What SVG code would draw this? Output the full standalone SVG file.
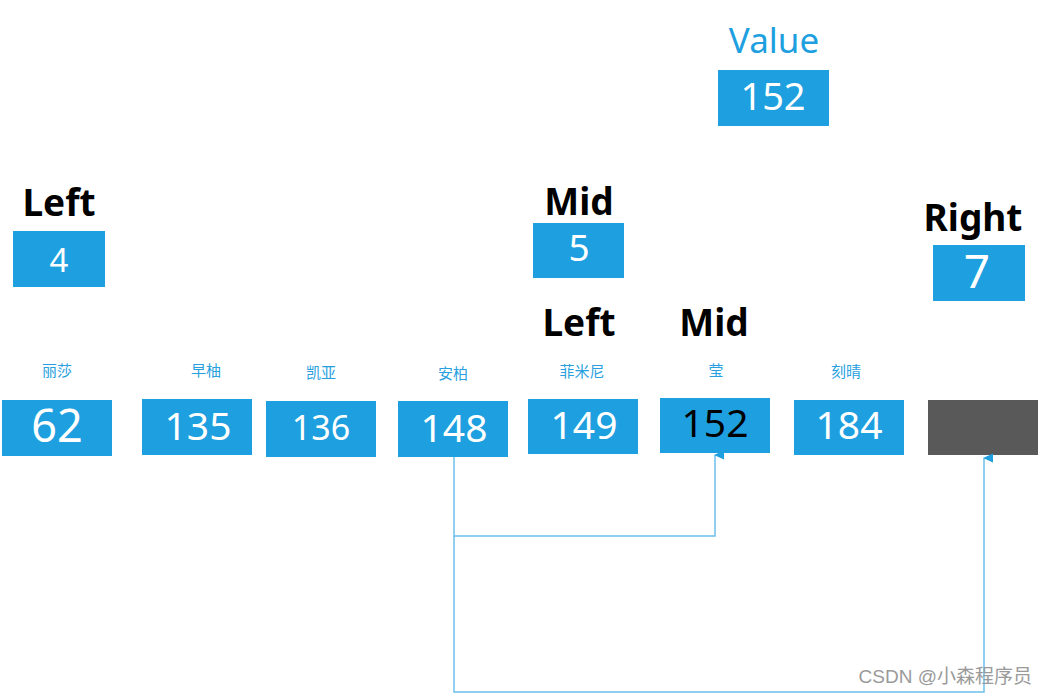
<svg xmlns="http://www.w3.org/2000/svg" width="1046" height="694" viewBox="0 0 1046 694">
<style>
.box{fill:#1ea0e0}
.num{font-family:"Noto Sans","Open Sans",sans-serif;fill:#fff;text-anchor:middle}
.lbl{font-family:"Noto Sans CJK SC",sans-serif;font-size:15px;fill:#2a9fe0;text-anchor:middle}
.hd{font-family:"Noto Sans","Liberation Sans",sans-serif;font-weight:bold;font-size:37px;fill:#000;text-anchor:middle}
.conn{fill:none;stroke:#6cc0ea;stroke-width:1.5}
</style>
<defs>
<marker id="arr" viewBox="0 0 10 10" refX="5" refY="1" markerWidth="10" markerHeight="10" orient="auto-start-reverse" markerUnits="userSpaceOnUse">
<path d="M0.5,10 L5,0 L9.5,10 Z" fill="#1e9fdf"/>
</marker>
</defs>
<rect width="1046" height="694" fill="#fff"/>

<g id="value">
<text x="774" y="53" font-family="Noto Sans, Open Sans, sans-serif" font-size="35" fill="#1e9fdf" text-anchor="middle">Value</text>
<rect class="box" x="718" y="70" width="111" height="56"/>
<text class="num" x="773" y="110" font-size="38">152</text>
</g>

<g id="left-top">
<text class="hd" x="59" y="216">Left</text>
<rect class="box" x="13" y="231" width="92" height="56"/>
<text class="num" x="59" y="272" font-size="33">4</text>
</g>

<g id="mid-top">
<text class="hd" x="579" y="215">Mid</text>
<rect class="box" x="533" y="223" width="91" height="55"/>
<text class="num" x="579" y="261" font-size="37">5</text>
</g>

<g id="right-top">
<text class="hd" x="973" y="231">Right</text>
<rect class="box" x="933" y="245" width="92" height="56"/>
<text class="num" x="977" y="288" font-size="46">7</text>
</g>

<g id="left-low"><text class="hd" x="579" y="336">Left</text></g>
<g id="mid-low"><text class="hd" x="714" y="336">Mid</text></g>

<g id="n0">
<text class="lbl" x="57" y="376">丽莎</text>
<rect class="box" x="2" y="400" width="110" height="56"/>
<text class="num" x="57" y="442" font-size="45">62</text>
</g>
<g id="n1">
<text class="lbl" x="206" y="376">早柚</text>
<rect class="box" x="142" y="399" width="110" height="56"/>
<text class="num" x="198" y="440" font-size="39">135</text>
</g>
<g id="n2">
<text class="lbl" x="321" y="378">凯亚</text>
<rect class="box" x="266" y="401" width="110" height="56"/>
<text class="num" x="321" y="440" font-size="34">136</text>
</g>
<g id="n3">
<text class="lbl" x="453" y="379">安柏</text>
<rect class="box" x="398" y="401" width="110" height="56"/>
<text class="num" x="454" y="442" font-size="39">148</text>
</g>
<g id="n4">
<text class="lbl" x="582" y="377">菲米尼</text>
<rect class="box" x="528" y="399" width="110" height="55"/>
<text class="num" x="584" y="439" font-size="39">149</text>
</g>
<g id="n5">
<text class="lbl" x="716" y="376">莹</text>
<rect class="box" x="660" y="398" width="110" height="55"/>
<text class="num" x="715" y="437" font-size="39" style="fill:#000">152</text>
</g>
<g id="n6">
<text class="lbl" x="846" y="377">刻晴</text>
<rect class="box" x="794" y="400" width="110" height="55"/>
<text class="num" x="849" y="439" font-size="39">184</text>
</g>
<g id="n7">
<rect x="928" y="400" width="110" height="55" fill="#595959"/>
</g>

<g id="connectors">
<path class="conn" d="M454,457 V536 H715 V455" marker-end="url(#arr)"/>
<path class="conn" d="M454,536 V692 H984 V458" marker-end="url(#arr)"/>
</g>

<text x="1032" y="683" font-family="Liberation Sans, Noto Sans CJK SC, sans-serif" font-size="19" fill="#9a9a9a" text-anchor="end">CSDN @小森程序员</text>
</svg>
